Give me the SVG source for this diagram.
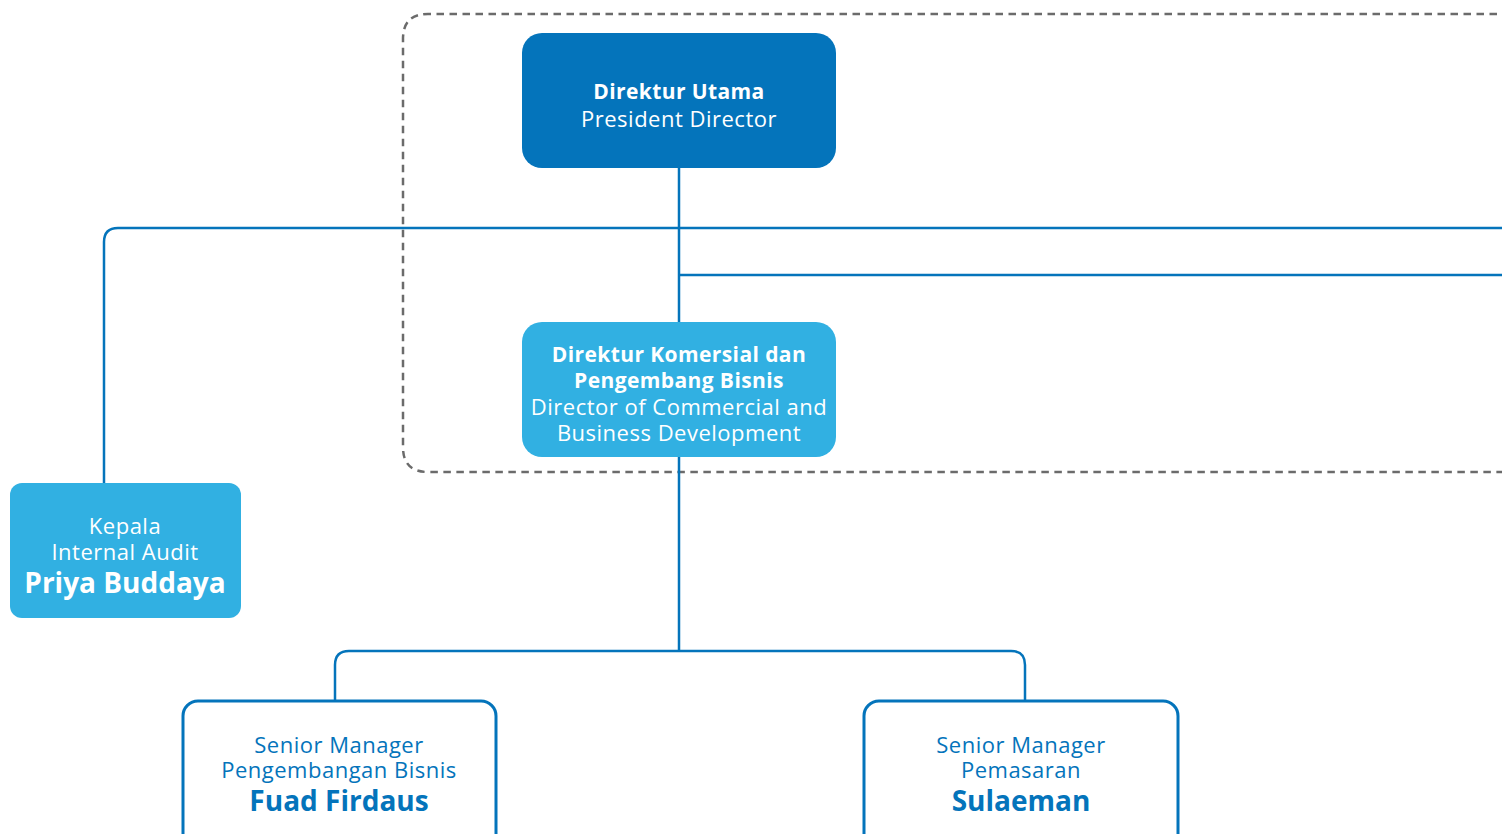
<svg xmlns="http://www.w3.org/2000/svg" width="1502" height="834" viewBox="0 0 1502 834">
  <style>
    .t { font-family: "Open Sans", "Liberation Sans", sans-serif; text-anchor: middle; dominant-baseline: central; }
    .w { fill: #ffffff; }
    .b { fill: #0474bb; }
    .reg { font-size: 22px; font-weight: 400; letter-spacing: 0.5px; }
    .bold { font-size: 21px; font-weight: 700; letter-spacing: 0.4px; }
    .name { font-size: 28px; font-weight: 700; }
    .conn { fill: none; stroke: #0474bb; stroke-width: 2.5; }
    .dark { fill: #0474bb; }
    .light { fill: #31b0e2; }
    .outline { fill: #ffffff; stroke: #0474bb; stroke-width: 3; }
  </style>

  <!-- board of directors frame -->
  <path d="M1510 14 H428 Q403 14 403 39 V447 Q403 472 428 472 H1510" fill="none" stroke="#6b6b6b" stroke-width="2.5" stroke-dasharray="7.5 5.5"/>

  <!-- reporting lines -->
  <g id="connectors">
    <path class="conn" d="M679 168 V651"/>
    <path class="conn" d="M1502 228 H118 Q104 228 104 242 V483"/>
    <path class="conn" d="M679 275 H1502"/>
    <path class="conn" d="M679 651 H349 Q335 651 335 665 V700"/>
    <path class="conn" d="M679 651 H1011 Q1025 651 1025 665 V700"/>
  </g>

  <g id="president-director">
    <rect class="dark" x="522" y="33" width="314" height="135" rx="20"/>
    <text class="t w bold" x="679" y="91">Direktur Utama</text>
    <text class="t w reg" x="679" y="118">President Director</text>
  </g>

  <g id="commercial-director">
    <rect class="light" x="522" y="322" width="314" height="135" rx="20"/>
    <text class="t w bold" x="679" y="354">Direktur Komersial dan</text>
    <text class="t w bold" x="679" y="380">Pengembang Bisnis</text>
    <text class="t w reg" x="679" y="406">Director of Commercial and</text>
    <text class="t w reg" x="679" y="432">Business Development</text>
  </g>

  <g id="internal-audit">
    <rect class="light" x="10" y="483" width="231" height="135" rx="12"/>
    <text class="t w reg" x="125" y="525">Kepala</text>
    <text class="t w reg" x="125" y="551">Internal Audit</text>
    <text class="t w name" x="125" y="582">Priya Buddaya</text>
  </g>

  <g id="sm-business-development">
    <rect class="outline" x="183" y="701" width="313" height="150" rx="15"/>
    <text class="t b reg" x="339" y="744">Senior Manager</text>
    <text class="t b reg" x="339" y="769">Pengembangan Bisnis</text>
    <text class="t b name" x="339" y="800">Fuad Firdaus</text>
  </g>

  <g id="sm-marketing">
    <rect class="outline" x="864" y="701" width="314" height="150" rx="15"/>
    <text class="t b reg" x="1021" y="744">Senior Manager</text>
    <text class="t b reg" x="1021" y="769">Pemasaran</text>
    <text class="t b name" x="1021" y="800">Sulaeman</text>
  </g>
</svg>
